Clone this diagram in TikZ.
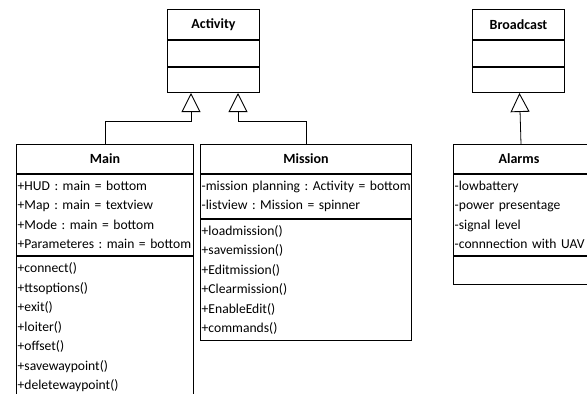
\documentclass[tikz,border=0pt]{standalone}
\usepackage{fontspec}
\setmainfont{Carlito}
\usetikzlibrary{arrows.meta,calc}
\newcommand{\umlln}[1]{\mbox{#1}}
\frenchspacing
\begin{document}
\begin{tikzpicture}[x=1pt,y=-1pt,
  txt/.style={font=\fontsize{13.6}{19.5}\selectfont\frenchspacing},
  cname/.style={draw, line width=1pt, anchor=north west, inner sep=0pt, font=\fontsize{14}{16}\selectfont\bfseries},
  comp/.style={draw, line width=1pt, anchor=north west, align=left, inner xsep=1.2pt, inner ysep=0pt, txt},
  inh/.style={draw, line width=0.8pt, -{Triangle[open,length=19pt,width=19pt,line width=0.9pt]}}]
\path[use as bounding box] (0,0) rectangle (587,394);
\clip (0,0) rectangle (587,394);
\fill[white] (0,0) rectangle (587,394);

% Activity
\node[cname, minimum width=92pt, minimum height=30pt] (acttop) at (167,9) {Activity};
\node[cname, minimum width=92pt, minimum height=26pt] (actmid) at (acttop.south west) {};
\node[cname, minimum width=92pt, minimum height=25pt] (actbot) at (actmid.south west) {};

% Broadcast
\node[cname, minimum width=92pt, minimum height=30pt] (bctop) at (472,9) {Broadcast};
\node[cname, minimum width=92pt, minimum height=26pt] (bcmid) at (bctop.south west) {};
\node[cname, minimum width=92pt, minimum height=25pt] (bcbot) at (bcmid.south west) {};

% Main
\node[cname, minimum width=177pt, minimum height=29pt] (mainname) at (16,144) {Main};
\node[comp, text width=174.6pt, minimum height=81pt] (mainattr) at (mainname.south west)
 {\umlln{+HUD : main = bottom}\\\umlln{+Map : main = textview}\\\umlln{+Mode : main = bottom}\\\umlln{+Parameteres : main = bottom}};
\node[comp, text width=174.6pt, minimum height=142pt] (mainops) at (mainattr.south west)
 {\umlln{+connect()}\\\umlln{+ttsoptions()}\\\umlln{+exit()}\\\umlln{+loiter()}\\\umlln{+offset()}\\\umlln{+savewaypoint()}\\\umlln{+deletewaypoint()}};

% Mission
\node[cname, minimum width=211pt, minimum height=29pt] (misname) at (200,144) {Mission};
\node[comp, text width=208.6pt, minimum height=44pt] (misattr) at (misname.south west)
 {\umlln{-mission planning : Activity = bottom}\\\umlln{-listview : Mission = spinner}};
\node[comp, text width=208.6pt, minimum height=121pt] (misops) at (misattr.south west)
 {\umlln{+loadmission()}\\\umlln{+savemission()}\\\umlln{+Editmission()}\\\umlln{+Clearmission()}\\\umlln{+EnableEdit()}\\\umlln{+commands()}};

% Alarms
\node[cname, minimum width=137pt, minimum height=29pt] (alname) at (453,144) {\hspace*{-6pt}Alarms};
\node[comp, text width=134.6pt, minimum height=81pt] (alattr) at (alname.south west)
 {\umlln{-lowbattery}\\\umlln{-power presentage}\\\umlln{-signal level}\\\umlln{-connnection with UAV}};
\node[comp, text width=134.6pt, minimum height=28pt] (alops) at (alattr.south west) {};

% inheritance connectors
\coordinate (actL) at ($(actbot.south)+(-22.5,0)$);
\coordinate (actR) at ($(actbot.south)+(24.5,0)$);
\path[inh] (mainname.north) |- ($(actL)+(0,28)$) -- (actL);
\path[inh] (misname.north) |- ($(actR)+(0,28)$) -- (actR);
\path[inh] ($(alname.north west)+(68,0)$) -- ($(bcbot.south)+(1,0)$);
\end{tikzpicture}
\end{document}
